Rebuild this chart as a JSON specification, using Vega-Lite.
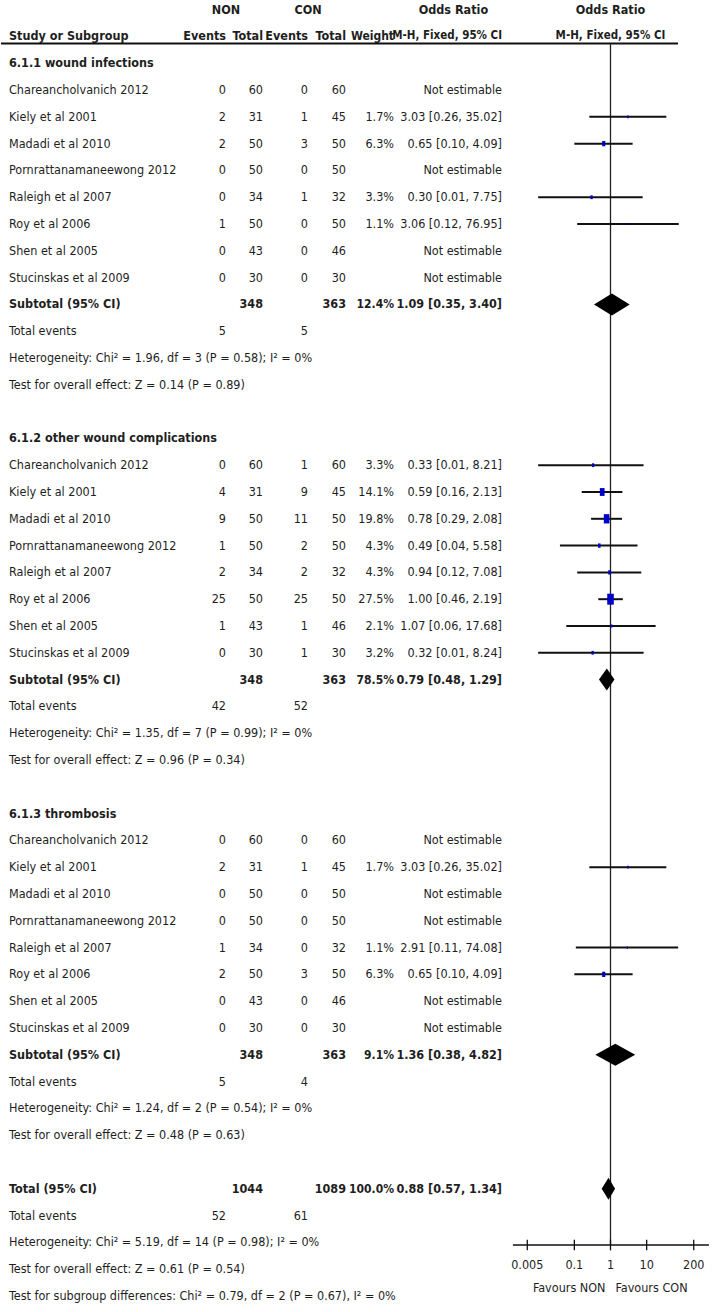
{
 "$schema": "https://vega.github.io/schema/vega-lite/v6.json",
 "padding": 0,
 "spacing": 0,
 "bounds": "flush",
 "config": {
  "view": {"stroke": null},
  "text": {"font": "DejaVu Sans Condensed, Liberation Sans Narrow, sans-serif", "fontSize": 12.5, "color": "#1e1e1e"}
 },
 "datasets": {
  "rows": [
   {"row": 0, "kind": "group", "nt": "NON", "ct": "CON", "ci": "Odds Ratio", "fp": "Odds Ratio"},
   {"row": 1, "kind": "head", "label": "Study or Subgroup", "ne": "Events", "nt": "Total", "ce": "Events", "ct": "Total", "w": "Weight", "ci": "M-H, Fixed, 95% CI", "fp": "M-H, Fixed, 95% CI"},
   {"row": 2, "kind": "section", "label": "6.1.1 wound infections"},
   {"row": 3, "kind": "study", "label": "Chareancholvanich 2012", "ne": 0, "nt": 60, "ce": 0, "ct": 60, "ci": "Not estimable"},
   {"row": 4, "kind": "study", "label": "Kiely et al 2001", "ne": 2, "nt": 31, "ce": 1, "ct": 45, "w": "1.7%", "ci": "3.03 [0.26, 35.02]", "or": 3.03, "lo": 0.26, "hi": 35.02, "wt": 1.7},
   {"row": 5, "kind": "study", "label": "Madadi et al 2010", "ne": 2, "nt": 50, "ce": 3, "ct": 50, "w": "6.3%", "ci": "0.65 [0.10, 4.09]", "or": 0.65, "lo": 0.10, "hi": 4.09, "wt": 6.3},
   {"row": 6, "kind": "study", "label": "Pornrattanamaneewong 2012", "ne": 0, "nt": 50, "ce": 0, "ct": 50, "ci": "Not estimable"},
   {"row": 7, "kind": "study", "label": "Raleigh et al 2007", "ne": 0, "nt": 34, "ce": 1, "ct": 32, "w": "3.3%", "ci": "0.30 [0.01, 7.75]", "or": 0.30, "lo": 0.01, "hi": 7.75, "wt": 3.3},
   {"row": 8, "kind": "study", "label": "Roy et al 2006", "ne": 1, "nt": 50, "ce": 0, "ct": 50, "w": "1.1%", "ci": "3.06 [0.12, 76.95]", "or": 3.06, "lo": 0.12, "hi": 76.95, "wt": 1.1},
   {"row": 9, "kind": "study", "label": "Shen et al 2005", "ne": 0, "nt": 43, "ce": 0, "ct": 46, "ci": "Not estimable"},
   {"row": 10, "kind": "study", "label": "Stucinskas et al 2009", "ne": 0, "nt": 30, "ce": 0, "ct": 30, "ci": "Not estimable"},
   {"row": 11, "kind": "subtotal", "label": "Subtotal (95% CI)", "nt": 348, "ct": 363, "w": "12.4%", "ci": "1.09 [0.35, 3.40]", "or": 1.09, "lo": 0.35, "hi": 3.40},
   {"row": 12, "kind": "events", "label": "Total events", "ne": 5, "ce": 5},
   {"row": 13, "kind": "stat", "label": "Heterogeneity: Chi² = 1.96, df = 3 (P = 0.58); I² = 0%"},
   {"row": 14, "kind": "stat", "label": "Test for overall effect: Z = 0.14 (P = 0.89)"},
   {"row": 16, "kind": "section", "label": "6.1.2 other wound complications"},
   {"row": 17, "kind": "study", "label": "Chareancholvanich 2012", "ne": 0, "nt": 60, "ce": 1, "ct": 60, "w": "3.3%", "ci": "0.33 [0.01, 8.21]", "or": 0.33, "lo": 0.01, "hi": 8.21, "wt": 3.3},
   {"row": 18, "kind": "study", "label": "Kiely et al 2001", "ne": 4, "nt": 31, "ce": 9, "ct": 45, "w": "14.1%", "ci": "0.59 [0.16, 2.13]", "or": 0.59, "lo": 0.16, "hi": 2.13, "wt": 14.1},
   {"row": 19, "kind": "study", "label": "Madadi et al 2010", "ne": 9, "nt": 50, "ce": 11, "ct": 50, "w": "19.8%", "ci": "0.78 [0.29, 2.08]", "or": 0.78, "lo": 0.29, "hi": 2.08, "wt": 19.8},
   {"row": 20, "kind": "study", "label": "Pornrattanamaneewong 2012", "ne": 1, "nt": 50, "ce": 2, "ct": 50, "w": "4.3%", "ci": "0.49 [0.04, 5.58]", "or": 0.49, "lo": 0.04, "hi": 5.58, "wt": 4.3},
   {"row": 21, "kind": "study", "label": "Raleigh et al 2007", "ne": 2, "nt": 34, "ce": 2, "ct": 32, "w": "4.3%", "ci": "0.94 [0.12, 7.08]", "or": 0.94, "lo": 0.12, "hi": 7.08, "wt": 4.3},
   {"row": 22, "kind": "study", "label": "Roy et al 2006", "ne": 25, "nt": 50, "ce": 25, "ct": 50, "w": "27.5%", "ci": "1.00 [0.46, 2.19]", "or": 1.00, "lo": 0.46, "hi": 2.19, "wt": 27.5},
   {"row": 23, "kind": "study", "label": "Shen et al 2005", "ne": 1, "nt": 43, "ce": 1, "ct": 46, "w": "2.1%", "ci": "1.07 [0.06, 17.68]", "or": 1.07, "lo": 0.06, "hi": 17.68, "wt": 2.1},
   {"row": 24, "kind": "study", "label": "Stucinskas et al 2009", "ne": 0, "nt": 30, "ce": 1, "ct": 30, "w": "3.2%", "ci": "0.32 [0.01, 8.24]", "or": 0.32, "lo": 0.01, "hi": 8.24, "wt": 3.2},
   {"row": 25, "kind": "subtotal", "label": "Subtotal (95% CI)", "nt": 348, "ct": 363, "w": "78.5%", "ci": "0.79 [0.48, 1.29]", "or": 0.79, "lo": 0.48, "hi": 1.29},
   {"row": 26, "kind": "events", "label": "Total events", "ne": 42, "ce": 52},
   {"row": 27, "kind": "stat", "label": "Heterogeneity: Chi² = 1.35, df = 7 (P = 0.99); I² = 0%"},
   {"row": 28, "kind": "stat", "label": "Test for overall effect: Z = 0.96 (P = 0.34)"},
   {"row": 30, "kind": "section", "label": "6.1.3 thrombosis"},
   {"row": 31, "kind": "study", "label": "Chareancholvanich 2012", "ne": 0, "nt": 60, "ce": 0, "ct": 60, "ci": "Not estimable"},
   {"row": 32, "kind": "study", "label": "Kiely et al 2001", "ne": 2, "nt": 31, "ce": 1, "ct": 45, "w": "1.7%", "ci": "3.03 [0.26, 35.02]", "or": 3.03, "lo": 0.26, "hi": 35.02, "wt": 1.7},
   {"row": 33, "kind": "study", "label": "Madadi et al 2010", "ne": 0, "nt": 50, "ce": 0, "ct": 50, "ci": "Not estimable"},
   {"row": 34, "kind": "study", "label": "Pornrattanamaneewong 2012", "ne": 0, "nt": 50, "ce": 0, "ct": 50, "ci": "Not estimable"},
   {"row": 35, "kind": "study", "label": "Raleigh et al 2007", "ne": 1, "nt": 34, "ce": 0, "ct": 32, "w": "1.1%", "ci": "2.91 [0.11, 74.08]", "or": 2.91, "lo": 0.11, "hi": 74.08, "wt": 1.1},
   {"row": 36, "kind": "study", "label": "Roy et al 2006", "ne": 2, "nt": 50, "ce": 3, "ct": 50, "w": "6.3%", "ci": "0.65 [0.10, 4.09]", "or": 0.65, "lo": 0.10, "hi": 4.09, "wt": 6.3},
   {"row": 37, "kind": "study", "label": "Shen et al 2005", "ne": 0, "nt": 43, "ce": 0, "ct": 46, "ci": "Not estimable"},
   {"row": 38, "kind": "study", "label": "Stucinskas et al 2009", "ne": 0, "nt": 30, "ce": 0, "ct": 30, "ci": "Not estimable"},
   {"row": 39, "kind": "subtotal", "label": "Subtotal (95% CI)", "nt": 348, "ct": 363, "w": "9.1%", "ci": "1.36 [0.38, 4.82]", "or": 1.36, "lo": 0.38, "hi": 4.82},
   {"row": 40, "kind": "events", "label": "Total events", "ne": 5, "ce": 4},
   {"row": 41, "kind": "stat", "label": "Heterogeneity: Chi² = 1.24, df = 2 (P = 0.54); I² = 0%"},
   {"row": 42, "kind": "stat", "label": "Test for overall effect: Z = 0.48 (P = 0.63)"},
   {"row": 44, "kind": "total", "label": "Total (95% CI)", "nt": 1044, "ct": 1089, "w": "100.0%", "ci": "0.88 [0.57, 1.34]", "or": 0.88, "lo": 0.57, "hi": 1.34},
   {"row": 45, "kind": "events", "label": "Total events", "ne": 52, "ce": 61},
   {"row": 46, "kind": "stat", "label": "Heterogeneity: Chi² = 5.19, df = 14 (P = 0.98); I² = 0%"},
   {"row": 47, "kind": "stat", "label": "Test for overall effect: Z = 0.61 (P = 0.54)"},
   {"row": 48, "kind": "stat", "label": "Test for subgroup differences: Chi² = 0.79, df = 2 (P = 0.67), I² = 0%"}
  ],
  "ticks": [
   {"v": 0.005, "t": "0.005"},
   {"v": 0.1, "t": "0.1"},
   {"v": 1, "t": "1"},
   {"v": 10, "t": "10"},
   {"v": 200, "t": "200"}
  ],
  "favours": [
   {"side": "NON", "t": "Favours NON"},
   {"side": "CON", "t": "Favours CON"}
  ]
 },
 "hconcat": [
  {
   "width": 188, "height": 1312,
   "layer": [
    {"data": {"name": "rows"},
     "transform": [{"fold": ["label"], "as": ["col", "val"]}, {"filter": "isValid(datum.val) && indexof(['study','events','stat'], datum.kind) >= 0"}],
     "mark": {"type": "text", "align": "left", "baseline": "middle", "dx": 8},
     "encoding": {
      "x": {"field": "col", "type": "nominal", "scale": {"type": "band", "paddingInner": 0, "paddingOuter": 0}, "bandPosition": 0, "axis": null},
      "y": {"field": "row", "type": "quantitative", "scale": {"domain": [-0.36, 48.6], "reverse": true, "nice": false, "zero": false}, "axis": null},
      "text": {"field": "val", "type": "nominal"}}},
    {"data": {"name": "rows"},
     "transform": [{"fold": ["label"], "as": ["col", "val"]}, {"filter": "isValid(datum.val) && indexof(['head','section','subtotal','total'], datum.kind) >= 0"}],
     "mark": {"type": "text", "align": "left", "baseline": "middle", "dx": 8, "fontWeight": "bold"},
     "encoding": {
      "x": {"field": "col", "type": "nominal", "scale": {"type": "band", "paddingInner": 0, "paddingOuter": 0}, "bandPosition": 0, "axis": null},
      "y": {"field": "row", "type": "quantitative", "scale": {"domain": [-0.36, 48.6], "reverse": true, "nice": false, "zero": false}, "axis": null},
      "text": {"field": "val", "type": "nominal"}}},
    {"data": {"values": [{}]},
     "mark": {"type": "rule", "strokeWidth": 2, "color": "#111"},
     "encoding": {"y": {"datum": 1.263, "type": "quantitative", "scale": {"domain": [-0.36, 48.6], "reverse": true, "nice": false, "zero": false}, "axis": null}}}
   ]
  },
  {
   "width": 37, "height": 1312,
   "layer": [
    {"data": {"name": "rows"},
     "transform": [{"fold": ["ne"], "as": ["col", "val"]}, {"filter": "isValid(datum.val) && indexof(['study','events'], datum.kind) >= 0"}],
     "mark": {"type": "text", "align": "right", "baseline": "middle"},
     "encoding": {
      "x": {"field": "col", "type": "nominal", "scale": {"type": "band", "paddingInner": 0, "paddingOuter": 0}, "bandPosition": 1, "axis": null},
      "y": {"field": "row", "type": "quantitative", "scale": {"domain": [-0.36, 48.6], "reverse": true, "nice": false, "zero": false}, "axis": null},
      "text": {"field": "val", "type": "nominal"}}},
    {"data": {"name": "rows"},
     "transform": [{"fold": ["ne"], "as": ["col", "val"]}, {"filter": "isValid(datum.val) && indexof(['head','subtotal','total'], datum.kind) >= 0"}],
     "mark": {"type": "text", "align": "right", "baseline": "middle", "fontWeight": "bold"},
     "encoding": {
      "x": {"field": "col", "type": "nominal", "scale": {"type": "band", "paddingInner": 0, "paddingOuter": 0}, "bandPosition": 1, "axis": null},
      "y": {"field": "row", "type": "quantitative", "scale": {"domain": [-0.36, 48.6], "reverse": true, "nice": false, "zero": false}, "axis": null},
      "text": {"field": "val", "type": "nominal"}}},
    {"data": {"values": [{}]},
     "mark": {"type": "rule", "strokeWidth": 2, "color": "#111"},
     "encoding": {"y": {"datum": 1.263, "type": "quantitative", "scale": {"domain": [-0.36, 48.6], "reverse": true, "nice": false, "zero": false}, "axis": null}}}
   ]
  },
  {
   "width": 37, "height": 1312,
   "layer": [
    {"data": {"name": "rows"},
     "transform": [{"fold": ["nt"], "as": ["col", "val"]}, {"filter": "isValid(datum.val) && indexof(['study','events'], datum.kind) >= 0"}],
     "mark": {"type": "text", "align": "right", "baseline": "middle"},
     "encoding": {
      "x": {"field": "col", "type": "nominal", "scale": {"type": "band", "paddingInner": 0, "paddingOuter": 0}, "bandPosition": 1, "axis": null},
      "y": {"field": "row", "type": "quantitative", "scale": {"domain": [-0.36, 48.6], "reverse": true, "nice": false, "zero": false}, "axis": null},
      "text": {"field": "val", "type": "nominal"}}},
    {"data": {"name": "rows"},
     "transform": [{"fold": ["nt"], "as": ["col", "val"]}, {"filter": "isValid(datum.val) && indexof(['head','subtotal','total'], datum.kind) >= 0"}],
     "mark": {"type": "text", "align": "right", "baseline": "middle", "fontWeight": "bold"},
     "encoding": {
      "x": {"field": "col", "type": "nominal", "scale": {"type": "band", "paddingInner": 0, "paddingOuter": 0}, "bandPosition": 1, "axis": null},
      "y": {"field": "row", "type": "quantitative", "scale": {"domain": [-0.36, 48.6], "reverse": true, "nice": false, "zero": false}, "axis": null},
      "text": {"field": "val", "type": "nominal"}}},
    {"data": {"name": "rows"},
     "transform": [{"fold": ["nt"], "as": ["col", "val"]}, {"filter": "isValid(datum.val) && datum.kind === 'group'"}],
     "mark": {"type": "text", "align": "center", "baseline": "middle", "fontWeight": "bold"},
     "encoding": {
      "x": {"field": "col", "type": "nominal", "scale": {"type": "band", "paddingInner": 0, "paddingOuter": 0}, "bandPosition": 0, "axis": null},
      "y": {"field": "row", "type": "quantitative", "scale": {"domain": [-0.36, 48.6], "reverse": true, "nice": false, "zero": false}, "axis": null},
      "text": {"field": "val", "type": "nominal"}}},
    {"data": {"values": [{}]},
     "mark": {"type": "rule", "strokeWidth": 2, "color": "#111"},
     "encoding": {"y": {"datum": 1.263, "type": "quantitative", "scale": {"domain": [-0.36, 48.6], "reverse": true, "nice": false, "zero": false}, "axis": null}}}
   ]
  },
  {
   "width": 45, "height": 1312,
   "layer": [
    {"data": {"name": "rows"},
     "transform": [{"fold": ["ce"], "as": ["col", "val"]}, {"filter": "isValid(datum.val) && indexof(['study','events'], datum.kind) >= 0"}],
     "mark": {"type": "text", "align": "right", "baseline": "middle"},
     "encoding": {
      "x": {"field": "col", "type": "nominal", "scale": {"type": "band", "paddingInner": 0, "paddingOuter": 0}, "bandPosition": 1, "axis": null},
      "y": {"field": "row", "type": "quantitative", "scale": {"domain": [-0.36, 48.6], "reverse": true, "nice": false, "zero": false}, "axis": null},
      "text": {"field": "val", "type": "nominal"}}},
    {"data": {"name": "rows"},
     "transform": [{"fold": ["ce"], "as": ["col", "val"]}, {"filter": "isValid(datum.val) && indexof(['head','subtotal','total'], datum.kind) >= 0"}],
     "mark": {"type": "text", "align": "right", "baseline": "middle", "fontWeight": "bold"},
     "encoding": {
      "x": {"field": "col", "type": "nominal", "scale": {"type": "band", "paddingInner": 0, "paddingOuter": 0}, "bandPosition": 1, "axis": null},
      "y": {"field": "row", "type": "quantitative", "scale": {"domain": [-0.36, 48.6], "reverse": true, "nice": false, "zero": false}, "axis": null},
      "text": {"field": "val", "type": "nominal"}}},
    {"data": {"values": [{}]},
     "mark": {"type": "rule", "strokeWidth": 2, "color": "#111"},
     "encoding": {"y": {"datum": 1.263, "type": "quantitative", "scale": {"domain": [-0.36, 48.6], "reverse": true, "nice": false, "zero": false}, "axis": null}}}
   ]
  },
  {
   "width": 38, "height": 1312,
   "layer": [
    {"data": {"name": "rows"},
     "transform": [{"fold": ["ct"], "as": ["col", "val"]}, {"filter": "isValid(datum.val) && indexof(['study','events'], datum.kind) >= 0"}],
     "mark": {"type": "text", "align": "right", "baseline": "middle"},
     "encoding": {
      "x": {"field": "col", "type": "nominal", "scale": {"type": "band", "paddingInner": 0, "paddingOuter": 0}, "bandPosition": 1, "axis": null},
      "y": {"field": "row", "type": "quantitative", "scale": {"domain": [-0.36, 48.6], "reverse": true, "nice": false, "zero": false}, "axis": null},
      "text": {"field": "val", "type": "nominal"}}},
    {"data": {"name": "rows"},
     "transform": [{"fold": ["ct"], "as": ["col", "val"]}, {"filter": "isValid(datum.val) && indexof(['head','subtotal','total'], datum.kind) >= 0"}],
     "mark": {"type": "text", "align": "right", "baseline": "middle", "fontWeight": "bold"},
     "encoding": {
      "x": {"field": "col", "type": "nominal", "scale": {"type": "band", "paddingInner": 0, "paddingOuter": 0}, "bandPosition": 1, "axis": null},
      "y": {"field": "row", "type": "quantitative", "scale": {"domain": [-0.36, 48.6], "reverse": true, "nice": false, "zero": false}, "axis": null},
      "text": {"field": "val", "type": "nominal"}}},
    {"data": {"name": "rows"},
     "transform": [{"fold": ["ct"], "as": ["col", "val"]}, {"filter": "isValid(datum.val) && datum.kind === 'group'"}],
     "mark": {"type": "text", "align": "center", "baseline": "middle", "fontWeight": "bold"},
     "encoding": {
      "x": {"field": "col", "type": "nominal", "scale": {"type": "band", "paddingInner": 0, "paddingOuter": 0}, "bandPosition": 0, "axis": null},
      "y": {"field": "row", "type": "quantitative", "scale": {"domain": [-0.36, 48.6], "reverse": true, "nice": false, "zero": false}, "axis": null},
      "text": {"field": "val", "type": "nominal"}}},
    {"data": {"values": [{}]},
     "mark": {"type": "rule", "strokeWidth": 2, "color": "#111"},
     "encoding": {"y": {"datum": 1.263, "type": "quantitative", "scale": {"domain": [-0.36, 48.6], "reverse": true, "nice": false, "zero": false}, "axis": null}}}
   ]
  },
  {
   "width": 48, "height": 1312,
   "layer": [
    {"data": {"name": "rows"},
     "transform": [{"fold": ["w"], "as": ["col", "val"]}, {"filter": "isValid(datum.val) && indexof(['study','events'], datum.kind) >= 0"}],
     "mark": {"type": "text", "align": "right", "baseline": "middle"},
     "encoding": {
      "x": {"field": "col", "type": "nominal", "scale": {"type": "band", "paddingInner": 0, "paddingOuter": 0}, "bandPosition": 1, "axis": null},
      "y": {"field": "row", "type": "quantitative", "scale": {"domain": [-0.36, 48.6], "reverse": true, "nice": false, "zero": false}, "axis": null},
      "text": {"field": "val", "type": "nominal"}}},
    {"data": {"name": "rows"},
     "transform": [{"fold": ["w"], "as": ["col", "val"]}, {"filter": "isValid(datum.val) && indexof(['head','subtotal','total'], datum.kind) >= 0"}],
     "mark": {"type": "text", "align": "right", "baseline": "middle", "fontWeight": "bold", "fontSize": 12},
     "encoding": {
      "x": {"field": "col", "type": "nominal", "scale": {"type": "band", "paddingInner": 0, "paddingOuter": 0}, "bandPosition": 1, "axis": null},
      "y": {"field": "row", "type": "quantitative", "scale": {"domain": [-0.36, 48.6], "reverse": true, "nice": false, "zero": false}, "axis": null},
      "text": {"field": "val", "type": "nominal"}}},
    {"data": {"values": [{}]},
     "mark": {"type": "rule", "strokeWidth": 2, "color": "#111"},
     "encoding": {"y": {"datum": 1.263, "type": "quantitative", "scale": {"domain": [-0.36, 48.6], "reverse": true, "nice": false, "zero": false}, "axis": null}}}
   ]
  },
  {
   "width": 108, "height": 1312,
   "layer": [
    {"data": {"name": "rows"},
     "transform": [{"fold": ["ci"], "as": ["col", "val"]}, {"filter": "isValid(datum.val) && indexof(['study','events'], datum.kind) >= 0"}],
     "mark": {"type": "text", "align": "right", "baseline": "middle"},
     "encoding": {
      "x": {"field": "col", "type": "nominal", "scale": {"type": "band", "paddingInner": 0, "paddingOuter": 0}, "bandPosition": 1, "axis": null},
      "y": {"field": "row", "type": "quantitative", "scale": {"domain": [-0.36, 48.6], "reverse": true, "nice": false, "zero": false}, "axis": null},
      "text": {"field": "val", "type": "nominal"}}},
    {"data": {"name": "rows"},
     "transform": [{"fold": ["ci"], "as": ["col", "val"]}, {"filter": "isValid(datum.val) && indexof(['subtotal','total'], datum.kind) >= 0"}],
     "mark": {"type": "text", "align": "right", "baseline": "middle", "fontWeight": "bold"},
     "encoding": {
      "x": {"field": "col", "type": "nominal", "scale": {"type": "band", "paddingInner": 0, "paddingOuter": 0}, "bandPosition": 1, "axis": null},
      "y": {"field": "row", "type": "quantitative", "scale": {"domain": [-0.36, 48.6], "reverse": true, "nice": false, "zero": false}, "axis": null},
      "text": {"field": "val", "type": "nominal"}}},
    {"data": {"name": "rows"},
     "transform": [{"fold": ["ci"], "as": ["col", "val"]}, {"filter": "isValid(datum.val) && datum.kind === 'head'"}],
     "mark": {"type": "text", "align": "right", "baseline": "middle", "fontWeight": "bold", "fontSize": 11.5},
     "encoding": {
      "x": {"field": "col", "type": "nominal", "scale": {"type": "band", "paddingInner": 0, "paddingOuter": 0}, "bandPosition": 1, "axis": null},
      "y": {"field": "row", "type": "quantitative", "scale": {"domain": [-0.36, 48.6], "reverse": true, "nice": false, "zero": false}, "axis": null},
      "text": {"field": "val", "type": "nominal"}}},
    {"data": {"name": "rows"},
     "transform": [{"fold": ["ci"], "as": ["col", "val"]}, {"filter": "isValid(datum.val) && datum.kind === 'group'"}],
     "mark": {"type": "text", "align": "center", "baseline": "middle", "fontWeight": "bold"},
     "encoding": {
      "x": {"field": "col", "type": "nominal", "scale": {"type": "band", "paddingInner": 0, "paddingOuter": 0}, "bandPosition": 0.55, "axis": null},
      "y": {"field": "row", "type": "quantitative", "scale": {"domain": [-0.36, 48.6], "reverse": true, "nice": false, "zero": false}, "axis": null},
      "text": {"field": "val", "type": "nominal"}}},
    {"data": {"values": [{}]},
     "mark": {"type": "rule", "strokeWidth": 2, "color": "#111"},
     "encoding": {"y": {"datum": 1.263, "type": "quantitative", "scale": {"domain": [-0.36, 48.6], "reverse": true, "nice": false, "zero": false}, "axis": null}}}
   ]
  },
  {
   "width": 217, "height": 1312,
   "layer": [
    {"data": {"name": "rows"},
     "transform": [{"filter": "isValid(datum.fp) && datum.kind === 'group'"}],
     "mark": {"type": "text", "align": "center", "baseline": "middle", "fontWeight": "bold"},
     "encoding": {
      "x": {"datum": 1, "type": "quantitative", "scale": {"type": "log", "domain": [0.001, 1000], "nice": false}, "axis": null},
      "y": {"field": "row", "type": "quantitative", "scale": {"domain": [-0.36, 48.6], "reverse": true, "nice": false, "zero": false}, "axis": null},
      "text": {"field": "fp", "type": "nominal"}}},
    {"data": {"name": "rows"},
     "transform": [{"filter": "isValid(datum.fp) && datum.kind === 'head'"}],
     "mark": {"type": "text", "align": "center", "baseline": "middle", "fontWeight": "bold", "fontSize": 11.5},
     "encoding": {
      "x": {"datum": 1, "type": "quantitative"},
      "y": {"field": "row", "type": "quantitative"},
      "text": {"field": "fp", "type": "nominal"}}},
    {"data": {"values": [{}]},
     "mark": {"type": "rule", "strokeWidth": 2, "color": "#111"},
     "encoding": {
      "x": {"datum": 0.001, "type": "quantitative"},
      "x2": {"datum": 73.5},
      "y": {"datum": 1.263, "type": "quantitative"}}},
    {"data": {"values": [{}]},
     "mark": {"type": "rule", "strokeWidth": 1.3, "color": "#222"},
     "encoding": {
      "x": {"datum": 1, "type": "quantitative"},
      "y": {"datum": 1.263, "type": "quantitative"},
      "y2": {"datum": 46.1}}},
    {"data": {"name": "rows"},
     "transform": [{"filter": "datum.kind === 'study' && isValid(datum.or)"}],
     "mark": {"type": "rule", "strokeWidth": 2, "color": "#111"},
     "encoding": {
      "x": {"field": "lo", "type": "quantitative"},
      "x2": {"field": "hi"},
      "y": {"field": "row", "type": "quantitative"}}},
    {"data": {"name": "rows"},
     "transform": [{"filter": "datum.kind === 'study' && isValid(datum.or)"}],
     "mark": {"type": "point", "filled": true, "opacity": 1, "color": "#0000c8", "shape": "M-0.6,-1L0.6,-1L0.6,1L-0.6,1Z"},
     "encoding": {
      "x": {"field": "or", "type": "quantitative"},
      "y": {"field": "row", "type": "quantitative"},
      "size": {"field": "wt", "type": "quantitative", "scale": {"domain": [0, 27.5], "range": [0, 120]}, "legend": null}}},
    {"data": {"name": "rows"},
     "transform": [
      {"filter": "datum.kind === 'subtotal' || datum.kind === 'total'"},
      {"fold": ["lo", "or", "hi"], "as": ["pt", "xv"]},
      {"calculate": "datum.pt === 'or' ? 0.41 : 0", "as": "h"},
      {"calculate": "datum.row - datum.h", "as": "top"},
      {"calculate": "datum.row + datum.h", "as": "bot"}
     ],
     "mark": {"type": "area", "orient": "vertical", "color": "#000", "opacity": 1},
     "encoding": {
      "x": {"field": "xv", "type": "quantitative"},
      "y": {"field": "top", "type": "quantitative"},
      "y2": {"field": "bot"},
      "detail": {"field": "row", "type": "nominal"}}},
    {"data": {"values": [{}]},
     "mark": {"type": "rule", "strokeWidth": 1.5, "color": "#111"},
     "encoding": {
      "x": {"datum": 0.002, "type": "quantitative"},
      "x2": {"datum": 527},
      "y": {"datum": 46.1, "type": "quantitative"}}},
    {"data": {"name": "ticks"},
     "mark": {"type": "rule", "strokeWidth": 1.3, "color": "#111"},
     "encoding": {
      "x": {"field": "v", "type": "quantitative"},
      "y": {"datum": 45.9, "type": "quantitative"},
      "y2": {"datum": 46.3}}},
    {"data": {"name": "ticks"},
     "mark": {"type": "text", "align": "center", "baseline": "middle"},
     "encoding": {
      "x": {"field": "v", "type": "quantitative"},
      "y": {"datum": 46.84, "type": "quantitative"},
      "text": {"field": "t", "type": "nominal"}}},
    {"data": {"name": "favours"},
     "transform": [{"filter": "datum.side === 'NON'"}],
     "mark": {"type": "text", "align": "right", "baseline": "middle", "dx": -5},
     "encoding": {
      "x": {"datum": 1, "type": "quantitative"},
      "y": {"datum": 47.7, "type": "quantitative"},
      "text": {"field": "t", "type": "nominal"}}},
    {"data": {"name": "favours"},
     "transform": [{"filter": "datum.side === 'CON'"}],
     "mark": {"type": "text", "align": "left", "baseline": "middle", "dx": 5},
     "encoding": {
      "x": {"datum": 1, "type": "quantitative"},
      "y": {"datum": 47.7, "type": "quantitative"},
      "text": {"field": "t", "type": "nominal"}}}
   ]
  }
 ]
}
